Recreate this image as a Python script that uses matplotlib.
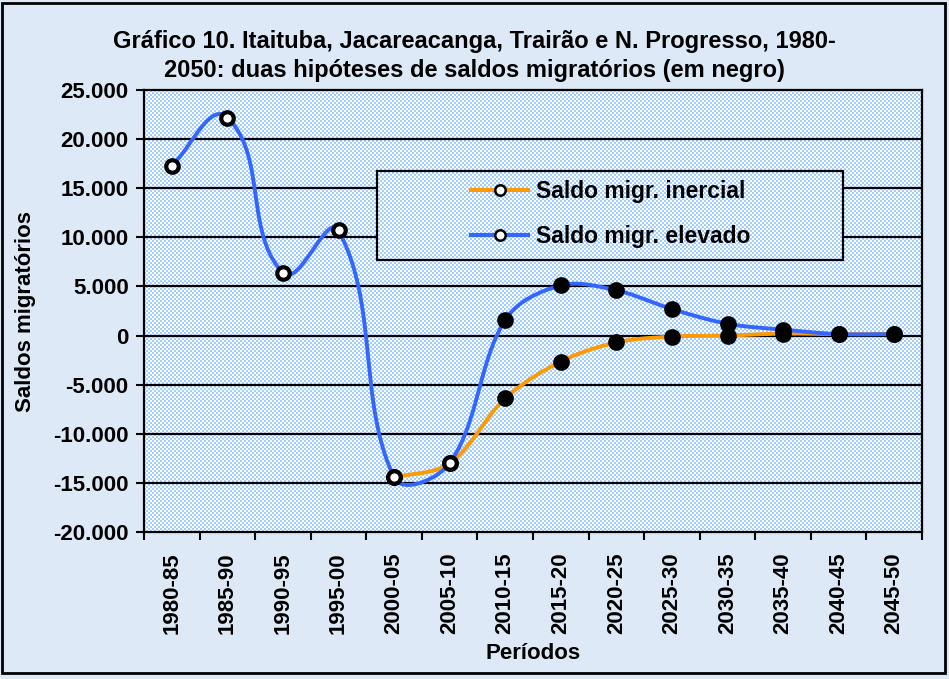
import numpy as np
import matplotlib
matplotlib.use("Agg")
import matplotlib.pyplot as plt
from matplotlib.patches import Rectangle
from matplotlib.lines import Line2D

plt.rcParams['font.family'] = ['Liberation Sans', 'DejaVu Sans']
plt.rcParams['font.weight'] = 'bold'

periodos = ['1980-85', '1985-90', '1990-95', '1995-00', '2000-05', '2005-10', '2010-15',
            '2015-20', '2020-25', '2025-30', '2030-35', '2035-40', '2040-45', '2045-50']
# saldo migratorio elevado (azul), todos os periodos
elevado = [17300, 22200, 6400, 10700, -14450, -13000, 1600,
           5100, 4600, 2700, 1200, 600, 150, 150]
# saldo inercial (laranja), a partir de 2000-05
inercial = [None, None, None, None, -14450, -13000, -6400,
            -2650, -700, -100, 0, 200, 150, 150]
# pontos observados (marcador branco) ate 2005-10, projetados (negro) depois
n_obs = 6

yticks = list(range(-20000, 25001, 5000))

BG = '#dde9f6'
AZUL = '#3366ff'
LARANJA = '#ff9900'

W, H = 949, 679
# area do grafico em pixels (esq, topo, dir, base)
PL, PT, PR, PB = 144, 90, 922, 532
xmin, xmax = -0.5, len(periodos) - 0.5
ymin, ymax = -20000, 25000
sx_px = (PR - PL) / (xmax - xmin)
sy_px = (PB - PT) / (ymax - ymin)


def suave(xs, ys, n=30):
    # curva suavizada tipo excel: bezier com tangentes escaladas pelo tamanho do segmento
    X = np.asarray(xs, float) * sx_px
    Y = np.asarray(ys, float) * sy_px
    P = np.column_stack([X, Y])
    m = len(P)
    tang = []
    for i in range(m):
        a = P[max(i - 1, 0)]
        b = P[min(i + 1, m - 1)]
        d = b - a
        tang.append(d / np.hypot(*d))
    out = []
    for i in range(m - 1):
        p1, p2 = P[i], P[i + 1]
        L = np.hypot(*(p2 - p1)) / 3
        c1 = p1 + tang[i] * L
        c2 = p2 - tang[i + 1] * L
        t = np.linspace(0, 1, n)[:, None]
        seg = (1 - t) ** 3 * p1 + 3 * t * (1 - t) ** 2 * c1 + 3 * t ** 2 * (1 - t) * c2 + t ** 3 * p2
        out.append(seg)
    out = np.vstack(out)
    return out[:, 0] / sx_px, out[:, 1] / sy_px


fig = plt.figure(figsize=(W / 100, H / 100), dpi=100, facecolor=BG)
ax = fig.add_axes([PL / W, 1 - PB / H, (PR - PL) / W, (PB - PT) / H])
ax.set_facecolor('none')
ax.set_zorder(1)

# fundo quadriculado (padrao 50%)
ii, jj = np.indices((PB - PT, PR - PL))
mask = ((ii // 2 + jj // 2) % 2).astype(bool)
img = np.ones((PB - PT, PR - PL, 3))
img[mask] = [160 / 255, 206 / 255, 255 / 255]
fig.figimage(img, xo=PL, yo=H - PB, zorder=0.5)

for v in yticks[1:-1]:
    ax.axhline(v, color='black', lw=1.6, zorder=1)

x = np.arange(len(periodos))
xi = [i for i, v in enumerate(inercial) if v is not None]
yi = [inercial[i] for i in xi]
cx, cy = suave(xi, yi)
ax.plot(cx, cy, color=LARANJA, lw=2.8, zorder=3, solid_capstyle='round')
cx, cy = suave(x, elevado)
ax.plot(cx, cy, color=AZUL, lw=2.8, zorder=3.1, solid_capstyle='round')

for serie in (inercial, elevado):
    for i, v in enumerate(serie):
        if v is None:
            continue
        fc = 'white' if i < n_obs else 'black'
        ax.plot(i, v, 'o', ms=9, mfc=fc, mec='black', mew=3, zorder=4)

ax.set_xlim(xmin, xmax)
ax.set_ylim(ymin, ymax)
ax.set_yticks(yticks)
ax.set_yticklabels([f"{v:,}".replace(',', '.') for v in yticks], fontsize=16)
ax.set_xticks(np.arange(len(periodos) + 1) - 0.5)
ax.set_xticklabels([])
ax.set_xticks(x, minor=True)
ax.set_xticklabels(periodos, minor=True, rotation=90, fontsize=16)
ax.tick_params(axis='x', which='minor', length=0, pad=15)
ax.tick_params(axis='x', which='major', length=6, width=1.5, direction='out')
ax.tick_params(axis='y', length=6, width=1.5, direction='out', pad=5)
for s in ax.spines.values():
    s.set_linewidth(1.6)

ax.set_xlabel('Períodos', fontsize=16, fontweight='bold', labelpad=6)
ax.set_ylabel('Saldos migratórios', fontsize=16, fontweight='bold')
ax.yaxis.set_label_coords((26 - PL) / (PR - PL), 0.5)
ax.yaxis.label.set_va('center')

fig.text(0.5, 1 - 56 / H,
         'Gráfico 10. Itaituba, Jacareacanga, Trairão e N. Progresso, 1980-\n'
         '2050: duas hipóteses de saldos migratórios (em negro)',
         ha='center', va='center', fontsize=17, linespacing=1.35)

# caixa da legenda: mesmo fundo, cobre as grades
LL, LT, LR, LB = 377, 171, 843, 260
fig.figimage(img[LT - PT:LB - PT, LL - PL:LR - PL], xo=LL, yo=H - LB, zorder=2)
fig.add_artist(Rectangle((LL / W, 1 - LB / H), (LR - LL) / W, (LB - LT) / H,
                         transform=fig.transFigure, fill=False, ec='black', lw=1.6, zorder=3))
hand = [Line2D([], [], color=LARANJA, lw=3, marker='o', ms=7.5, mfc='white', mec='black', mew=1.8),
        Line2D([], [], color=AZUL, lw=3, marker='o', ms=7.5, mfc='white', mec='black', mew=1.8)]
leg = fig.legend(hand, ['Saldo migr. inercial', 'Saldo migr. elevado'],
                 loc='center', bbox_to_anchor=(611 / W, 1 - 214 / H), frameon=False,
                 prop={'size': 16.5, 'weight': 'bold'}, handlelength=2.5,
                 labelspacing=0.95, handletextpad=0.35)
leg.set_zorder(4)

fig.add_artist(Rectangle((2 / W, 6 / H), 943 / W, 670 / H, transform=fig.transFigure,
                         fill=False, ec='black', lw=2))

fig.savefig('out.png', dpi=100, facecolor=BG)
